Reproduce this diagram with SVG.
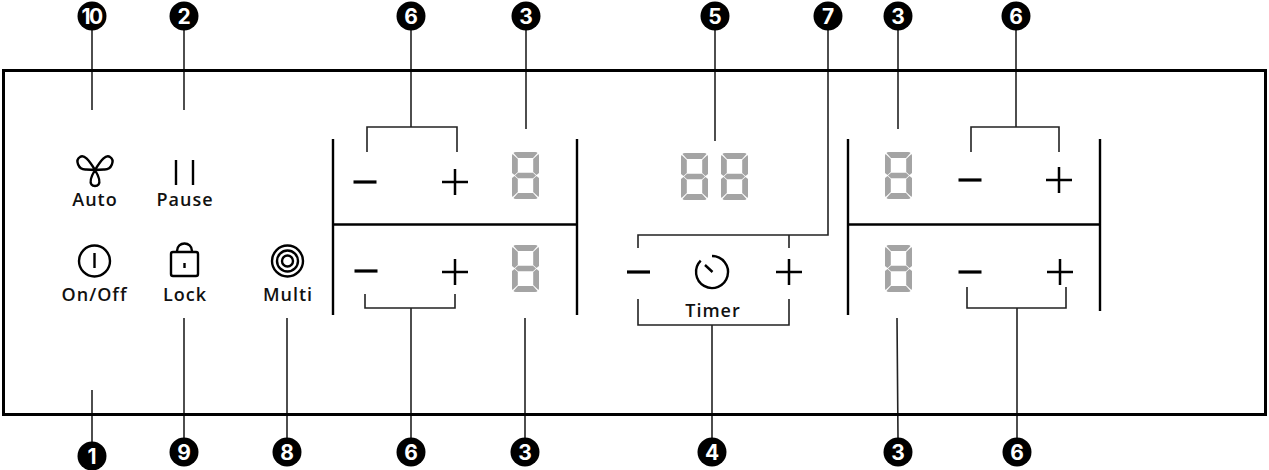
<svg xmlns="http://www.w3.org/2000/svg" width="1269" height="470" viewBox="0 0 1269 470">
<style>
.c{fill:none;stroke:#222;stroke-width:1.6}
.f{fill:none;stroke:#000;stroke-width:3}
.s{fill:none;stroke:#000;stroke-width:2.4}
.p{fill:none;stroke:#000;stroke-width:2.5}
.m{fill:none;stroke:#000;stroke-width:3.2}
.t{font-family:"Open Sans",Inter,sans-serif;font-size:18px;font-weight:600;fill:#111;text-anchor:middle;letter-spacing:1px}
.b{fill:#000}
.n{font-family:Inter,"Liberation Sans",sans-serif;font-size:21px;font-weight:700;fill:#fff;text-anchor:middle}
</style>
<defs>
<g id="d" fill="#a4a4a4">
<path d="M4 0H23Q25 0 25.500 1L21 6H6L1.500 1Q2 0 4 0Z"/>
<path d="M3 23.500L6 20.700H21L24 23.500L21 26.300H6Z"/>
<path d="M6 41H21L25.500 46Q25 47 23 47H4Q2 47 1.500 46Z"/>
<path d="M.5 2L5.800 7V20L2.500 23L0 21V4Q0 3 .5 2Z"/>
<path d="M26.500 2L21.200 7V20L24.500 23L27 21V4Q27 3 26.500 2Z"/>
<path d="M2.500 24L5.800 27V40L.5 45Q0 44 0 43V26Z"/>
<path d="M24.500 24L21.200 27V40L26.500 45Q27 44 27 43V26Z"/>
</g>
<path id="plus" class="p" d="M-13 0H13M0-13V13"/>
<path id="minus" class="m" d="M-11.500 0H11.500"/>
</defs>
<g id="connectors">
<path class="c" d="M92 30V110M184 30V110M411 30V127M367 152V127H457V152M526 30V129M715 30V141M828 30V235H638V248M789 235V248M898 30V129M1016 30V127M971 152V127H1059V152"/>
<path class="c" d="M92 390V442M184 318V438M287 318V438M411 308V438M365 294V308H455V294M525 318V438M712 325V438M638 299V325H789V299M897 318L898 438M1017 308V438M967 287V308H1066V287"/>
</g>
<g id="panel">
<rect class="f" x="3.500" y="70.500" width="1262" height="344"/>
<path class="s" d="M333 139V315M577 139V315M333 224.500H577M848 139V315M1100 139V311M848 224.500H1100"/>
</g>
<g id="zone-left-top"><use href="#minus" x="365" y="182"/><use href="#plus" x="455" y="182"/><use href="#d" x="512" y="152"/></g>
<g id="zone-left-bottom"><use href="#minus" x="366" y="271"/><use href="#plus" x="455" y="272"/><use href="#d" x="512" y="245"/></g>
<g id="zone-right-top"><use href="#d" x="885" y="152"/><use href="#minus" x="970" y="180"/><use href="#plus" x="1059" y="180"/></g>
<g id="zone-right-bottom"><use href="#d" x="885" y="245"/><use href="#minus" x="970" y="272"/><use href="#plus" x="1060" y="272"/></g>
<g id="timer-display"><use href="#d" x="681" y="153"/><use href="#d" x="721" y="153"/></g>
<g id="timer">
<use href="#minus" x="638.500" y="272"/><use href="#plus" x="789" y="272"/>
<path class="s" d="M700.700 260.700A16 16 0 1 0 712 256M705 265L712.500 272"/>
<text class="t" x="713" y="317">Timer</text>
</g>
<g id="auto">
<path class="s" d="M95 170C89 160 84 154 80 157C75 160 78 170 86 169.500C89 169.500 92 169.500 95 170C98 169.500 101 169.500 104 169.500C112 170 115 160 110 157C106 154 101 160 95 170C92 175 89 181 91.500 184.500C93 186.500 97 186.500 98.500 184.500C101 181 98 175 95 170Z"/>
<text class="t" x="95" y="206">Auto</text>
</g>
<g id="pause"><path class="s" d="M176 160V185M193 160V185"/><text class="t" x="185" y="206">Pause</text></g>
<g id="onoff"><circle class="s" cx="94.500" cy="261" r="15.500"/><path class="s" d="M94.500 253V268"/><text class="t" x="94.500" y="301">On/Off</text></g>
<g id="lock">
<rect class="s" x="171" y="252" width="27" height="24" rx="2"/><path class="s" d="M177 252V251C177 241 192 241 192 251V252M184.500 263V268"/>
<text class="t" x="185" y="301">Lock</text>
</g>
<g id="multi">
<circle class="s" cx="287.500" cy="261" r="15.500"/><circle class="s" cx="287.500" cy="261" r="10.500"/><circle class="s" cx="287.500" cy="261" r="5.500"/>
<text class="t" x="288" y="301">Multi</text>
</g>
<g id="n10"><circle class="b" cx="92" cy="16" r="14.500"/><text class="n" x="91.500" y="23.500" style="letter-spacing:-1.500px">10</text></g>
<g id="n2"><circle class="b" cx="184" cy="16" r="14.500"/><text class="n" x="184" y="23.500">2</text></g>
<g id="n6a"><circle class="b" cx="411" cy="16" r="14.500"/><text class="n" x="411" y="23.500">6</text></g>
<g id="n3a"><circle class="b" cx="526" cy="16" r="14.500"/><text class="n" x="526" y="23.500">3</text></g>
<g id="n5"><circle class="b" cx="715" cy="16" r="14.500"/><text class="n" x="715" y="23.500">5</text></g>
<g id="n7"><circle class="b" cx="828" cy="16" r="14.500"/><text class="n" x="828" y="23.500">7</text></g>
<g id="n3b"><circle class="b" cx="898" cy="16" r="14.500"/><text class="n" x="898" y="23.500">3</text></g>
<g id="n6b"><circle class="b" cx="1016" cy="16" r="14.500"/><text class="n" x="1016" y="23.500">6</text></g>
<g id="n1"><circle class="b" cx="92" cy="456" r="14.500"/><text class="n" x="92" y="463.500">1</text></g>
<g id="n9"><circle class="b" cx="184" cy="452" r="14.500"/><text class="n" x="184" y="459.500">9</text></g>
<g id="n8"><circle class="b" cx="287" cy="452" r="14.500"/><text class="n" x="287" y="459.500">8</text></g>
<g id="n6c"><circle class="b" cx="411" cy="452" r="14.500"/><text class="n" x="411" y="459.500">6</text></g>
<g id="n3c"><circle class="b" cx="525" cy="452" r="14.500"/><text class="n" x="525" y="459.500">3</text></g>
<g id="n4"><circle class="b" cx="712" cy="452" r="14.500"/><text class="n" x="712" y="459.500">4</text></g>
<g id="n3d"><circle class="b" cx="898" cy="452" r="14.500"/><text class="n" x="898" y="459.500">3</text></g>
<g id="n6d"><circle class="b" cx="1017" cy="452" r="14.500"/><text class="n" x="1017" y="459.500">6</text></g>
</svg>
